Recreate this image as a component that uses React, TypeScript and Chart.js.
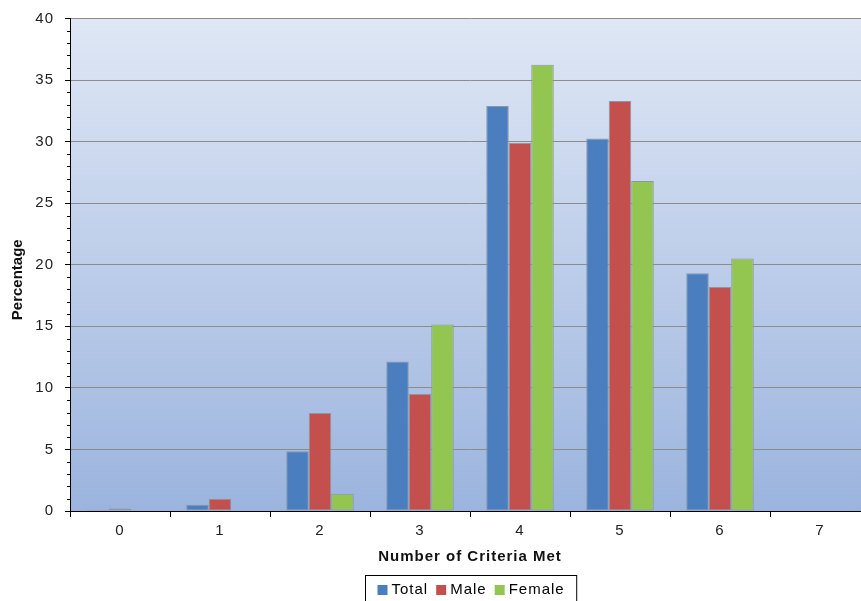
import React, { useEffect, useRef } from "react";
import { Chart, registerables } from "chart.js";

Chart.register(...registerables);

const categories = ["0", "1", "2", "3", "4", "5", "6", "7"];
const totalValues = [0.1, 0.5, 4.85, 12.15, 32.9, 30.25, 19.3, 0];
const maleValues = [0.2, 1.0, 7.95, 9.5, 29.9, 33.3, 18.2, 0];
const femaleValues = [0, 0, 1.4, 15.15, 36.25, 26.8, 20.5, 0];
const seriesNames = ["Total", "Male", "Female"];
const seriesColors = ["#4a7ebf", "#c4504d", "#92c651"];
const yTitle = "Percentage";
const xTitle = "Number of Criteria Met";

const FONT = "'Liberation Sans', Arial, sans-serif";

const bgPlugin = {
  id: "bgGradient",
  beforeDraw(chart: any) {
    const { ctx, chartArea } = chart;
    if (!chartArea) return;
    (ctx as any).letterSpacing = "1px";
    const g = ctx.createLinearGradient(0, chartArea.top, 0, chartArea.bottom);
    g.addColorStop(0, "#dfe7f5");
    g.addColorStop(1, "#9bb4de");
    ctx.save();
    ctx.fillStyle = g;
    ctx.fillRect(chartArea.left, chartArea.top, chartArea.right - chartArea.left, chartArea.bottom - chartArea.top);
    ctx.restore();
  },
};

const extrasPlugin = {
  id: "extras",
  afterDraw(chart: any) {
    const { ctx, chartArea } = chart;
    const y = chart.scales.y;
    ctx.save();
    // minor ticks
    ctx.strokeStyle = "#000";
    ctx.lineWidth = 1;
    for (let v = 0; v <= 40; v++) {
      if (v % 5 === 0) continue;
      const py = Math.round(y.getPixelForValue(v)) + 0.5;
      ctx.beginPath();
      ctx.moveTo(chartArea.left - 3, py);
      ctx.lineTo(chartArea.left, py);
      ctx.stroke();
    }
    // y title (no letter spacing)
    ctx.save();
    (ctx as any).letterSpacing = "0px";
    ctx.font = `bold 15px ${FONT}`;
    ctx.fillStyle = "#111";
    ctx.textAlign = "center";
    ctx.textBaseline = "middle";
    ctx.translate(18, (chartArea.top + chartArea.bottom) / 2 + 15);
    ctx.rotate(-Math.PI / 2);
    ctx.fillText(yTitle, 0, 0);
    ctx.restore();
    // legend
    ctx.font = `15px ${FONT}`;
    (ctx as any).letterSpacing = "1px";
    ctx.textBaseline = "middle";
    ctx.textAlign = "left";
    const sq = 10;
    const gapSqText = 4;
    const gapItems = 8;
    const widths = seriesNames.map((n) => ctx.measureText(n).width);
    const total = widths.reduce((a, w) => a + sq + gapSqText + w, 0) + gapItems * (seriesNames.length - 1);
    const padX = 12;
    const boxW = total + padX * 2;
    const cx = (chartArea.left + chartArea.right) / 2 + 1;
    const boxL = Math.round(cx - boxW / 2) + 0.5;
    const boxT = 575.5;
    ctx.strokeStyle = "#000";
    ctx.strokeRect(boxL, boxT, boxW, 34);
    let x = boxL + padX;
    const cy = 590;
    seriesNames.forEach((n, i) => {
      ctx.fillStyle = seriesColors[i];
      ctx.fillRect(x, cy - 5, sq, sq);
      x += sq + gapSqText;
      ctx.fillStyle = "#000";
      ctx.fillText(n, x, cy);
      x += widths[i] + gapItems;
    });
    ctx.restore();
  },
};

export default function App() {
  const ref = useRef<HTMLCanvasElement>(null);
  useEffect(() => {
    document.body.style.margin = "0";
    document.body.style.overflow = "hidden";
    const data = [totalValues, maleValues, femaleValues];
    const chart = new Chart(ref.current!, {
      type: "bar",
      data: {
        labels: categories,
        datasets: seriesNames.map((name, i) => ({
          label: name,
          data: data[i],
          backgroundColor: seriesColors[i],
          borderColor: "#8f96a0",
          borderWidth: 1,
          borderSkipped: false,
          categoryPercentage: 0.675,
          barPercentage: 1,
        })),
      },
      options: {
        animation: false,
        responsive: false,
        maintainAspectRatio: false,
        layout: { padding: { top: 18, bottom: 35, left: 0, right: 5 } },
        plugins: {
          legend: { display: false },
          tooltip: { enabled: false },
        },
        scales: {
          x: {
            afterFit: (s: any) => {
              s.height = 55;
            },
            grid: {
              offset: true,
              drawOnChartArea: false,
              drawTicks: true,
              tickLength: 6,
              tickColor: "#000",
            },
            border: { color: "#000", width: 1 },
            ticks: {
              color: "#222",
              font: { family: FONT, size: 15 },
              padding: 5,
              maxRotation: 0,
            },
            title: {
              display: true,
              text: xTitle,
              color: "#111",
              font: { family: FONT, size: 15, weight: "bold" },
              padding: { top: 0, bottom: 0 },
            },
          },
          y: {
            min: 0,
            max: 40,
            afterFit: (s: any) => {
              s.width = 70;
            },
            grid: {
              color: "#8c8c8c",
              tickColor: "#000",
              tickLength: 5,
              drawTicks: true,
            },
            border: { color: "#000", width: 1 },
            ticks: {
              stepSize: 5,
              color: "#222",
              font: { family: FONT, size: 15, lineHeight: 1 },
              padding: 11,
            },
            title: { display: false },
          },
        },
      },
      plugins: [bgPlugin, extrasPlugin],
    });
    return () => chart.destroy();
  }, []);
  return (
    <div style={{ width: 861, height: 601, overflow: "hidden", background: "#fff" }}>
      <canvas ref={ref} width={875} height={601} style={{ display: "block" }} />
    </div>
  );
}
